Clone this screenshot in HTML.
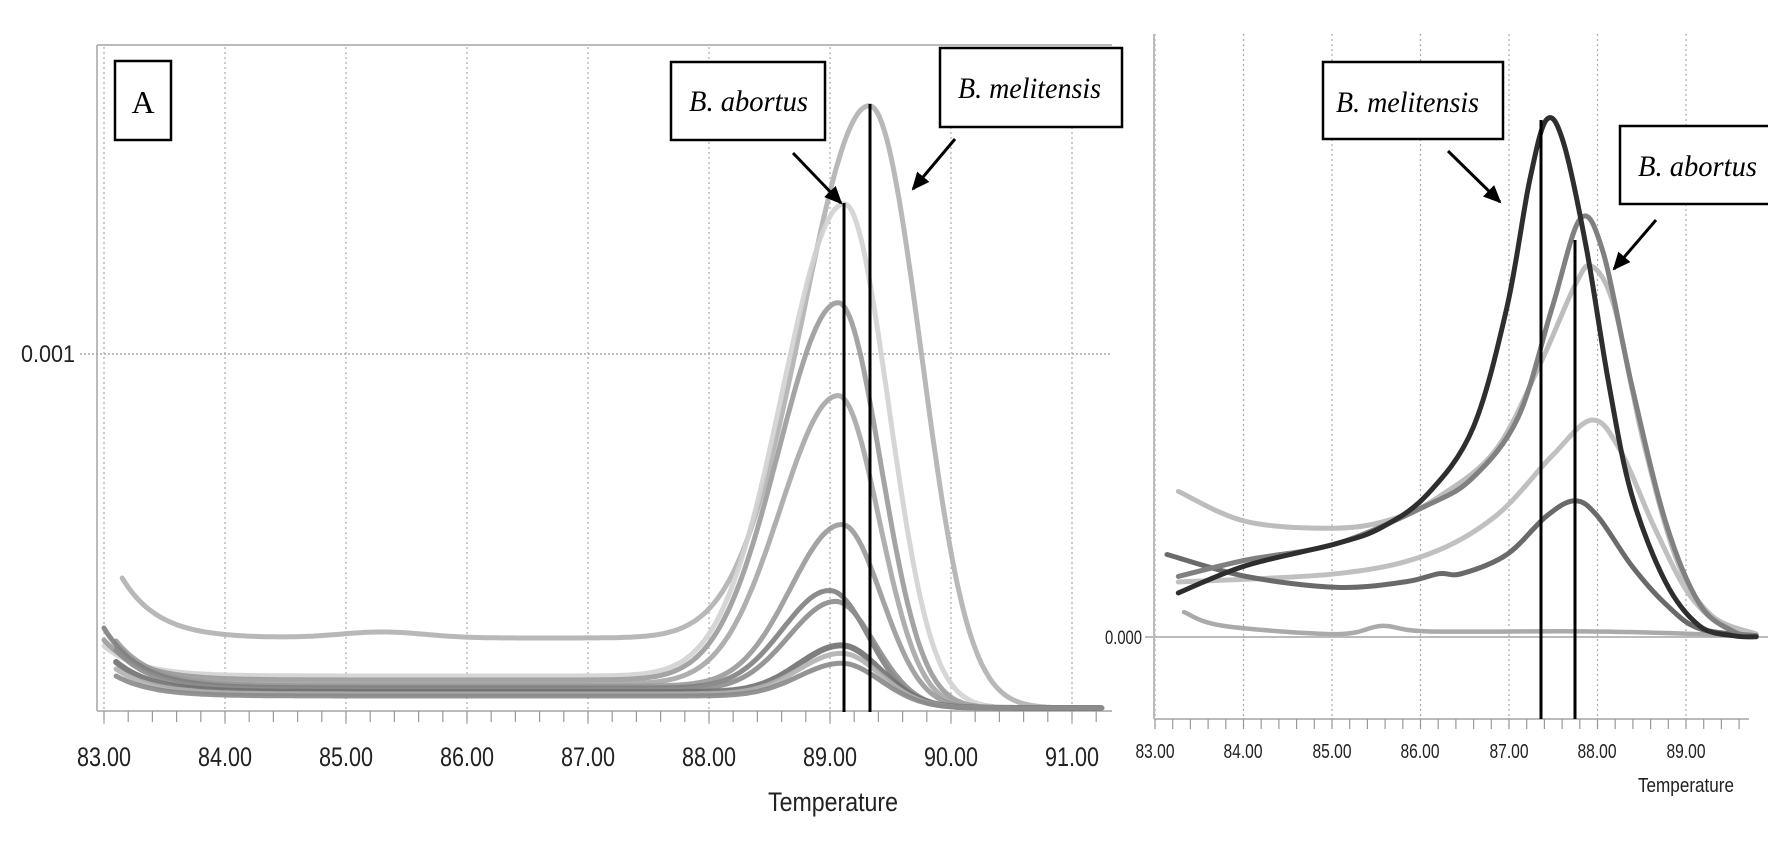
<!DOCTYPE html>
<html><head><meta charset="utf-8"><style>
html,body{margin:0;padding:0;background:#fff;width:1768px;height:856px;overflow:hidden}
svg{display:block}
</style></head><body>
<svg id="s" width="1768" height="856" viewBox="0 0 1768 856" xmlns="http://www.w3.org/2000/svg">
<rect width="1768" height="856" fill="#fff"/>
<g id="lgrid" stroke="#aaa" stroke-width="1.2" stroke-dasharray="2,3" fill="none"></g>
<line x1="97" y1="45" x2="1112" y2="45" stroke="#bbb" stroke-width="2"/>
<line x1="97" y1="45" x2="97" y2="711" stroke="#bbb" stroke-width="2"/>
<line x1="97" y1="711" x2="1112" y2="711" stroke="#bbb" stroke-width="2"/>
<line x1="80" y1="354" x2="1112" y2="354" stroke="#aaa" stroke-width="1.5" stroke-dasharray="2,2"/>
<g id="lticks" stroke="#999" stroke-width="1.2"></g>
<g id="lcurves" fill="none" stroke-linecap="round" stroke-linejoin="round"></g>
<g id="rgrid" stroke="#aaa" stroke-width="1.2" stroke-dasharray="2,3" fill="none"></g>
<line x1="1154" y1="34" x2="1154" y2="719" stroke="#bbb" stroke-width="2"/>
<line x1="1154" y1="719" x2="1749" y2="719" stroke="#bbb" stroke-width="2"/>
<line x1="1145" y1="637" x2="1768" y2="637" stroke="#bbb" stroke-width="2"/>
<g id="rticks" stroke="#999" stroke-width="1.2"></g>
<g id="rcurves" fill="none" stroke-linecap="round" stroke-linejoin="round"></g>

<line x1="844" y1="203" x2="844" y2="712" stroke="#000" stroke-width="3"/>
<line x1="870" y1="104" x2="870" y2="712" stroke="#000" stroke-width="3"/>
<line x1="1541" y1="120" x2="1541" y2="719" stroke="#000" stroke-width="3"/>
<line x1="1575" y1="240" x2="1575" y2="719" stroke="#000" stroke-width="3"/>

<g fill="#fff" stroke="#000" stroke-width="2.5">
<rect x="115" y="61" width="56" height="79"/>
<rect x="671" y="62" width="154" height="78"/>
<rect x="940" y="48" width="182" height="79"/>
<rect x="1323" y="62" width="180" height="77"/>
<rect x="1620" y="126" width="160" height="78"/>
</g>
<g font-family="Liberation Serif, serif" fill="#000">
<text x="143" y="113" font-size="32" text-anchor="middle">A</text>
<text x="689" y="111" font-size="30" font-style="italic" textLength="119" lengthAdjust="spacingAndGlyphs">B. abortus</text>
<text x="958" y="98" font-size="30" font-style="italic" textLength="143" lengthAdjust="spacingAndGlyphs">B. melitensis</text>
<text x="1336" y="112" font-size="30" font-style="italic" textLength="143" lengthAdjust="spacingAndGlyphs">B. melitensis</text>
<text x="1638" y="176" font-size="30" font-style="italic" textLength="119" lengthAdjust="spacingAndGlyphs">B. abortus</text>
</g>
<defs>
<marker id="ah2" markerWidth="18" markerHeight="16" refX="16" refY="8" orient="auto" markerUnits="userSpaceOnUse"><path d="M0,0 L18,8 L0,16 z" fill="#000"/></marker></defs>
<g stroke="#000" stroke-width="3" marker-end="url(#ah2)">
<line x1="793" y1="153" x2="841" y2="203"/>
<line x1="955" y1="139" x2="913" y2="189"/>
<line x1="1448" y1="151" x2="1500" y2="202"/>
<line x1="1656" y1="220" x2="1614" y2="269"/>
</g>

<g font-family="Liberation Sans, sans-serif" fill="#222">
<text x="21" y="362" font-size="24" textLength="54" lengthAdjust="spacingAndGlyphs">0.001</text>
<text x="1105" y="644" font-size="19" textLength="37" lengthAdjust="spacingAndGlyphs">0.000</text>
<g font-size="27" text-anchor="middle">
<text x="104" y="766" textLength="54" lengthAdjust="spacingAndGlyphs">83.00</text>
<text x="225" y="766" textLength="54" lengthAdjust="spacingAndGlyphs">84.00</text>
<text x="346" y="766" textLength="54" lengthAdjust="spacingAndGlyphs">85.00</text>
<text x="467" y="766" textLength="54" lengthAdjust="spacingAndGlyphs">86.00</text>
<text x="588" y="766" textLength="54" lengthAdjust="spacingAndGlyphs">87.00</text>
<text x="709" y="766" textLength="54" lengthAdjust="spacingAndGlyphs">88.00</text>
<text x="830" y="766" textLength="54" lengthAdjust="spacingAndGlyphs">89.00</text>
<text x="951" y="766" textLength="54" lengthAdjust="spacingAndGlyphs">90.00</text>
<text x="1072" y="766" textLength="54" lengthAdjust="spacingAndGlyphs">91.00</text>
<text x="833" y="811" textLength="130" lengthAdjust="spacingAndGlyphs">Temperature</text>
</g>
<g font-size="20" text-anchor="middle">
<text x="1155" y="758" textLength="39" lengthAdjust="spacingAndGlyphs">83.00</text>
<text x="1243" y="758" textLength="39" lengthAdjust="spacingAndGlyphs">84.00</text>
<text x="1332" y="758" textLength="39" lengthAdjust="spacingAndGlyphs">85.00</text>
<text x="1420" y="758" textLength="39" lengthAdjust="spacingAndGlyphs">86.00</text>
<text x="1509" y="758" textLength="39" lengthAdjust="spacingAndGlyphs">87.00</text>
<text x="1597" y="758" textLength="39" lengthAdjust="spacingAndGlyphs">88.00</text>
<text x="1686" y="758" textLength="39" lengthAdjust="spacingAndGlyphs">89.00</text>
<text x="1686" y="792" textLength="96" lengthAdjust="spacingAndGlyphs">Temperature</text>
</g>
</g>
</svg>
<script>
(function(){
var NS="http://www.w3.org/2000/svg";
function el(p,t,a){var e=document.createElementNS(NS,t);for(var k in a)e.setAttribute(k,a[k]);document.getElementById(p).appendChild(e);return e;}
for(var i=0;i<=8;i++){var x=104+i*121;el("lgrid","line",{x1:x,y1:47,x2:x,y2:725});}
for(var i=0;i<=43;i++){var x=104+i*24.2;if(x>1112)break;el("lticks","line",{x1:x,y1:711,x2:x,y2:722});}
for(var i=0;i<=7;i++){var x=1155+i*88.5;if(x>1749)break;el("rgrid","line",{x1:x,y1:34,x2:x,y2:728});}
for(var i=0;i<=35;i++){var x=1155+i*17.7;if(x>1749)break;el("rticks","line",{x1:x,y1:719,x2:x,y2:729});}
function lx(T){return 104+(T-83)*121;}
var L=[
[70,60,83.15,604,89.33,0.78,0.57,"#b0b0b0",5],
[32,30,83.0,505,89.12,0.72,0.5,"#d2d2d2",5],
[28,40,83.0,406,89.07,0.7,0.48,"#9a9a9a",5],
[24,35,83.1,313,89.07,0.68,0.46,"#a6a6a6",5],
[22,45,83.1,184,89.1,0.6,0.44,"#999",5],
[20,60,83.0,118,89.0,0.55,0.42,"#808080",5],
[18,40,83.1,107,89.05,0.55,0.42,"#8c8c8c",5],
[16,30,83.1,63,89.1,0.5,0.4,"#707070",6],
[14,25,83.1,55,89.1,0.5,0.4,"#b0b0b0",5],
[12,20,83.1,45,89.1,0.5,0.4,"#888",5]
];
L.forEach(function(c,idx){
 var d="";var Te=c[4]+0.55;
 for(var T=c[2];T<=91.25;T+=0.02){
  var S=1/(1+Math.exp((T-Te)/0.15));
  var bump=(idx===0)?6*Math.exp(-Math.pow((T-85.3)/0.5,2)):0;
  var h=c[0]*S+c[1]*Math.exp(-(T-c[2])/0.3)+bump;
  var w=T<c[4]?c[5]:c[6];
  h+=(c[3]-c[0])*Math.exp(-Math.pow((T-c[4])/w,2));
  var y=708-h;var x=lx(T);if(x>1112)x=1112;
  d+=(d?"L":"M")+x.toFixed(1)+","+y.toFixed(1);
 }
 el("lcurves","path",{d:d,stroke:c[7],"stroke-width":c[8],opacity:0.9});
});
function cr(p){var d="M"+p[0][0]+","+p[0][1];
 for(var i=0;i<p.length-1;i++){var p0=p[i-1]||p[i],p1=p[i],p2=p[i+1],p3=p[i+2]||p2;
  d+="C"+(p1[0]+(p2[0]-p0[0])/6).toFixed(1)+","+(p1[1]+(p2[1]-p0[1])/6).toFixed(1)+" "+(p2[0]-(p3[0]-p1[0])/6).toFixed(1)+","+(p2[1]-(p3[1]-p1[1])/6).toFixed(1)+" "+p2[0].toFixed(1)+","+p2[1].toFixed(1);}
 return d;}
function cv(a){return a.map(function(q){return [q[0]*1.133,q[1]*0.549];});}
var R=[
[[[1045,1115],[1080,1140],[1180,1155],[1220,1140],[1260,1150],[1400,1150],[1500,1155],[1550,1160]],"#aaa",4.5],
[[[1040,895],[1100,950],[1180,962],[1230,945],[1270,905],[1320,820],[1360,660],[1390,520],[1405,485],[1425,560],[1450,800],[1480,1020],[1510,1120],[1550,1155]],"#bdbdbd",5],
[[[1040,1060],[1180,1045],[1260,1010],[1320,940],[1370,830],[1405,765],[1430,820],[1460,960],[1490,1080],[1520,1140],[1550,1156]],"#c0c0c0",5],
[[[1030,1010],[1100,1050],[1180,1070],[1240,1060],[1270,1045],[1290,1045],[1330,1010],[1365,940],[1390,912],[1410,940],[1440,1030],[1470,1100],[1500,1145],[1550,1158]],"#6a6a6a",5],
[[[1040,1050],[1100,1020],[1180,990],[1260,920],[1300,870],[1340,760],[1370,560],[1395,398],[1415,460],[1440,700],[1470,950],[1500,1100],[1530,1150],[1550,1158]],"#808080",5],
[[[1040,1080],[1100,1030],[1180,990],[1220,960],[1260,900],[1300,780],[1330,560],[1350,330],[1365,218],[1380,260],[1400,450],[1420,700],[1440,900],[1470,1060],[1500,1140],[1530,1158],[1550,1160]],"#2e2e2e",5]
];
R.forEach(function(c){el("rcurves","path",{d:cr(cv(c[0])),stroke:c[1],"stroke-width":c[2]});});
})();
</script>
</body></html>
